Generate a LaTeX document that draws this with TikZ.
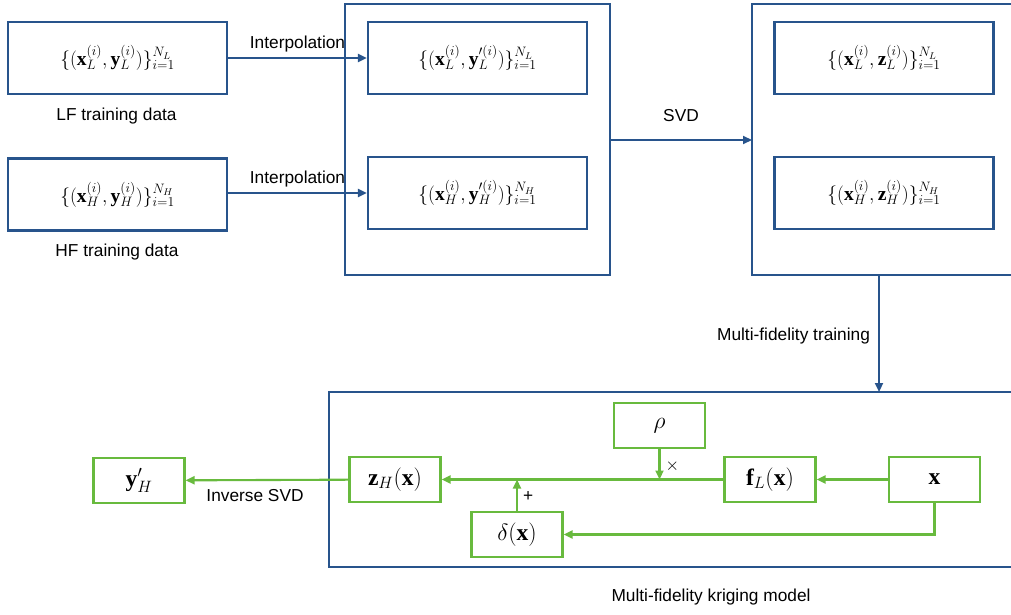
\RequirePackage{fix-cm}
\documentclass[tikz,border=0pt]{standalone}
\usepackage{fontspec}
\setmainfont{Liberation Serif}
\newfontfamily\labelfont{Liberation Sans}
\usetikzlibrary{arrows.meta}
\definecolor{dblue}{RGB}{40,84,140}
\definecolor{lgreen}{RGB}{104,186,62}
\tikzset{
  bbox/.style={draw=dblue, line width=2.2pt, minimum width=219pt, minimum height=72pt, inner sep=0pt, font=\fontsize{19.5}{22}\selectfont},
  gbox/.style={draw=lgreen, line width=2.2pt, minimum width=91pt, minimum height=45pt, inner sep=0pt, font=\fontsize{23.5}{27}\selectfont},
  barrow/.style={draw=dblue, line width=2.1pt, -{Triangle[length=9pt,width=8pt]}},
  garrow/.style={draw=lgreen, line width=2.1pt, -{Triangle[length=9pt,width=8pt]}},
  lbl/.style={font=\labelfont\fontsize{17.3}{20}\selectfont, inner sep=0pt},
}
\begin{document}
\begin{tikzpicture}[x=1pt,y=-1pt]
\useasboundingbox (0,0) rectangle (1011,615);
\clip (0,0) rectangle (1011,615);
% containers
\draw[dblue, line width=2.2pt] (345,4) rectangle (610,275);
\draw[dblue, line width=2.2pt] (752,4) rectangle (1040,275);
\draw[dblue, line width=2.2pt] (329,392) rectangle (1040,567);
\coordinate (midE) at (610,140);
\coordinate (rightW) at (752,140);
\coordinate (rightS) at (879,275);
\coordinate (botN) at (879,392);
% top row
\node[bbox] (lf) at (117.5,58) {$\{(\mathbf{x}_L^{(i)},\mathbf{y}_L^{(i)})\}_{i=1}^{N_L}$};
\node[bbox] (hf) at (117.5,194.5) {$\{(\mathbf{x}_H^{(i)},\mathbf{y}_H^{(i)})\}_{i=1}^{N_H}$};
\node[bbox] (ml) at (477.5,58) {$\{(\mathbf{x}_L^{(i)},\mathbf{y}_L^{\prime(i)})\}_{i=1}^{N_L}$};
\node[bbox] (mh) at (477.5,193) {$\{(\mathbf{x}_H^{(i)},\mathbf{y}_H^{\prime(i)})\}_{i=1}^{N_H}$};
\node[bbox] (rl) at (884,58) {$\{(\mathbf{x}_L^{(i)},\mathbf{z}_L^{(i)})\}_{i=1}^{N_L}$};
\node[bbox] (rh) at (884,193) {$\{(\mathbf{x}_H^{(i)},\mathbf{z}_H^{(i)})\}_{i=1}^{N_H}$};
\node[lbl] (lft) at (116.5,116) {LF training data};
\node[lbl] (hft) at (117,252) {HF training data};
\draw[barrow] (lf) -- node[lbl, above=5pt] {Interpolation} (ml);
\draw[barrow] (hf.east |- mh) -- node[lbl, above=5pt] {Interpolation} (mh);
\draw[barrow] (midE) -- node[lbl, above=17pt] {SVD} (rightW);
\draw[barrow] (rightS) -- node[lbl, pos=0.52, left=8pt] {Multi-fidelity training} (botN);
% bottom
\node[gbox] (yh) at (139,480.5) {$\mathbf{y}'_H$};
\node[gbox] (zh) at (395,479.5) {$\mathbf{z}_H(\mathbf{x})$};
\node[gbox] (dl) at (517,534.5) {$\delta(\mathbf{x})$};
\node[gbox] (rho) at (659.5,425.5) {$\rho$};
\node[gbox] (fl) at (770,479.5) {$\mathbf{f}_L(\mathbf{x})$};
\node[gbox] (xx) at (934.5,479.5) {$\mathbf{x}$};
\coordinate (rhoT) at (659.5,479.5);
\coordinate (dlT) at (517,479.5);
\draw[garrow] (zh) -- node[lbl, below=8pt, xshift=-12pt] {Inverse SVD} (yh);
\draw[garrow] (fl) -- (zh);
\draw[garrow] (xx) -- (fl);
\draw[garrow] (rho) -- node[lbl, right=5pt, pos=0.55] {$\times$} (rhoT);
\draw[garrow] (dl) -- node[lbl, right=5pt, pos=0.45] {+} (dlT);
\draw[garrow] (xx.south) |- (dl.east);
\node[lbl] (cap) at (711,597) {Multi-fidelity kriging model};
\end{tikzpicture}
\end{document}
